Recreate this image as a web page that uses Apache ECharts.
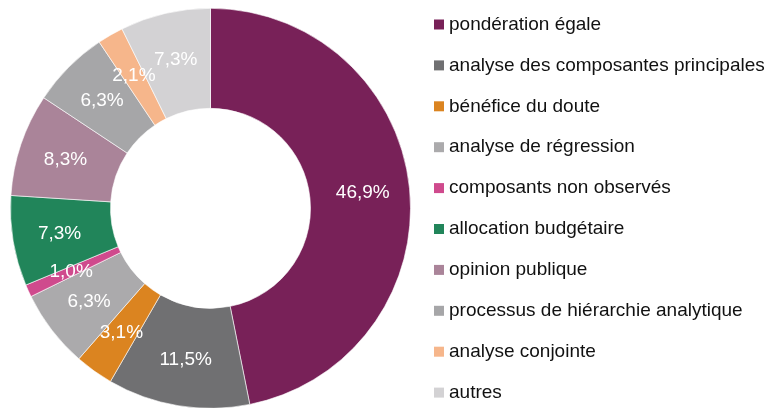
<!DOCTYPE html>
<html>
<head>
<meta charset="utf-8">
<script src="https://cdn.jsdelivr.net/npm/echarts@6/dist/echarts.min.js"></script>
<style>
  html, body { margin: 0; padding: 0; background: #fff; }
  #chart { width: 773px; height: 408px; }
</style>
</head>
<body>
<div id="chart"></div>
<script>
// Méthodes de pondération utilisées (part en %)
const categories = [
  'pondération égale',
  'analyse des composantes principales',
  'bénéfice du doute',
  'analyse de régression',
  'composants non observés',
  'allocation budgétaire',
  'opinion publique',
  'processus de hiérarchie analytique',
  'analyse conjointe',
  'autres'
];
const shares = [46.9, 11.5, 3.1, 6.3, 1.0, 7.3, 8.3, 6.3, 2.1, 7.3];
const colors = [
  '#782158', '#707072', '#DB8420', '#ABAAAC', '#CF4A8D',
  '#21855A', '#AA8499', '#A6A6A8', '#F6B68B', '#D3D2D4'
];

const fontFamily = 'Arial, "Liberation Sans", Helvetica, sans-serif';

const chart = echarts.init(document.getElementById('chart'), null, { renderer: 'canvas' });
chart.setOption({
  animation: false,
  color: colors,
  legend: {
    type: 'plain',
    orient: 'vertical',
    left: 434,
    top: 15,
    height: 393,
    padding: 0,
    icon: 'rect',
    itemWidth: 10,
    itemHeight: 10,
    itemGap: 21.9,
    itemTextGap: 4,
    itemStyle: { borderWidth: 0 },
    textStyle: { fontFamily, fontSize: 19, color: '#111', lineHeight: 19 },
    data: categories
  },
  series: [{
    type: 'pie',
    center: [210.5, 208.3],
    radius: [100, 200],
    startAngle: 90,
    clockwise: true,
    avoidLabelOverlap: false,
    itemStyle: { borderColor: '#fff', borderWidth: 0.6 },
    label: {
      show: true,
      position: 'inside',
      color: '#fff',
      fontFamily,
      fontSize: 19,
      formatter: p => p.value.toFixed(1).replace('.', ',') + '%'
    },
    labelLayout: { hideOverlap: false },
    labelLine: { show: false },
    emphasis: { disabled: true },
    data: categories.map((name, i) => ({ name, value: shares[i] }))
  }]
});
</script>
</body>
</html>
